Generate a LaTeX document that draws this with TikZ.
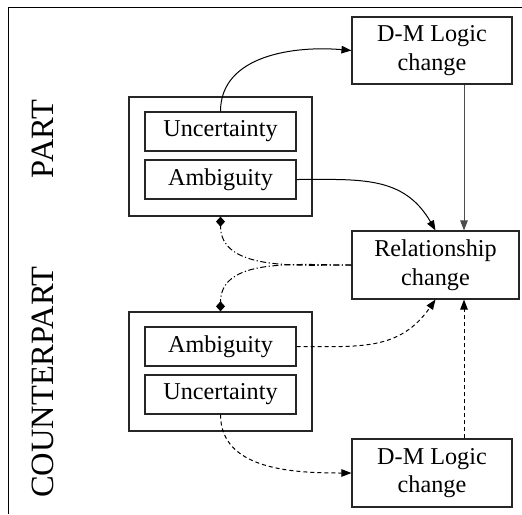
\documentclass[tikz,border=0pt]{standalone}
\usepackage{fontspec}
\setmainfont{Liberation Serif}
\usetikzlibrary{arrows.meta,calc}
\begin{document}
\begin{tikzpicture}[x=1pt,y=-1pt,
  box/.style={draw=black!85,line width=1.1pt,inner sep=0pt,align=center,
    font=\fontsize{24.2}{28.5}\selectfont},
  outerbox/.style={draw=black!85,line width=1.3pt,inner sep=0pt},
  innerbox/.style={box,minimum width=151pt,minimum height=39pt},
  sidelabel/.style={rotate=90,font=\fontsize{32.5}{36}\selectfont},
  link/.style={line width=1pt,-{Triangle[length=10pt,width=7.5pt]}},
  duallink/.style={line width=1pt,dash pattern=on 6pt off 2.5pt on 1.2pt off 2.5pt,
    -{Diamond[length=10pt,width=9pt]}},
  dashlink/.style={link,dash pattern=on 4pt off 3pt}]
\useasboundingbox (0,0) rectangle (522,514);
\fill[white] (0,0) rectangle (522,514);
% open frame: left and top rules
\draw[line width=1pt] (8,514) -- (8,7) -- (522,7);

% side labels
\node[sidelabel] (part) at (43,139) {PART};
\node[sidelabel] (counterpart) at (43,382) {COUNTERPART};

% part group
\node[outerbox,minimum width=183pt,minimum height=119pt] (pouter) at (220.5,156.5) {};
\node[innerbox] (unc1) at (220.5,131.5) {Uncertainty};
\node[innerbox] (amb1) at (220.5,179.5) {Ambiguity};

% counterpart group
\node[outerbox,minimum width=183pt,minimum height=119pt] (couter) at (220.5,371.5) {};
\node[innerbox] (amb2) at (220.5,346.5) {Ambiguity};
\node[innerbox] (unc2) at (220.5,394.5) {Uncertainty};

% outcome boxes
\node[box,minimum width=160pt,minimum height=67pt] (dmtop) at (432,50.5) {D-M Logic\\change};
\node[box,minimum width=167pt,minimum height=68pt] (rel) at (435.5,265) {Relationship\\change};
\node[box,minimum width=160pt,minimum height=68pt] (dmbot) at (432,473) {D-M Logic\\change};

% solid influences on the part side
\draw[link] (unc1.north) to[out=90,in=175] (dmtop.west);
\draw[link] (amb1.east) to[out=0,in=120,looseness=1.1] (rel.north);
\draw[link,draw=black!70] ([xshift=32pt]dmtop.south) -- ([xshift=28.5pt]rel.north);

% relationship feeding back to both groups
\draw[duallink] (rel.west) to[out=180,in=-90] (pouter.south);
\draw[duallink] (rel.west) to[out=180,in=90] (couter.north);

% dashed influences on the counterpart side
\draw[dashlink] (amb2.east) to[out=0,in=-125,looseness=1.1] (rel.south);
\draw[dashlink] (unc2.south) to[out=-90,in=180] (dmbot.west);
\draw[dashlink] ([xshift=32pt]dmbot.north) -- ([xshift=28.5pt]rel.south);
\end{tikzpicture}
\end{document}
